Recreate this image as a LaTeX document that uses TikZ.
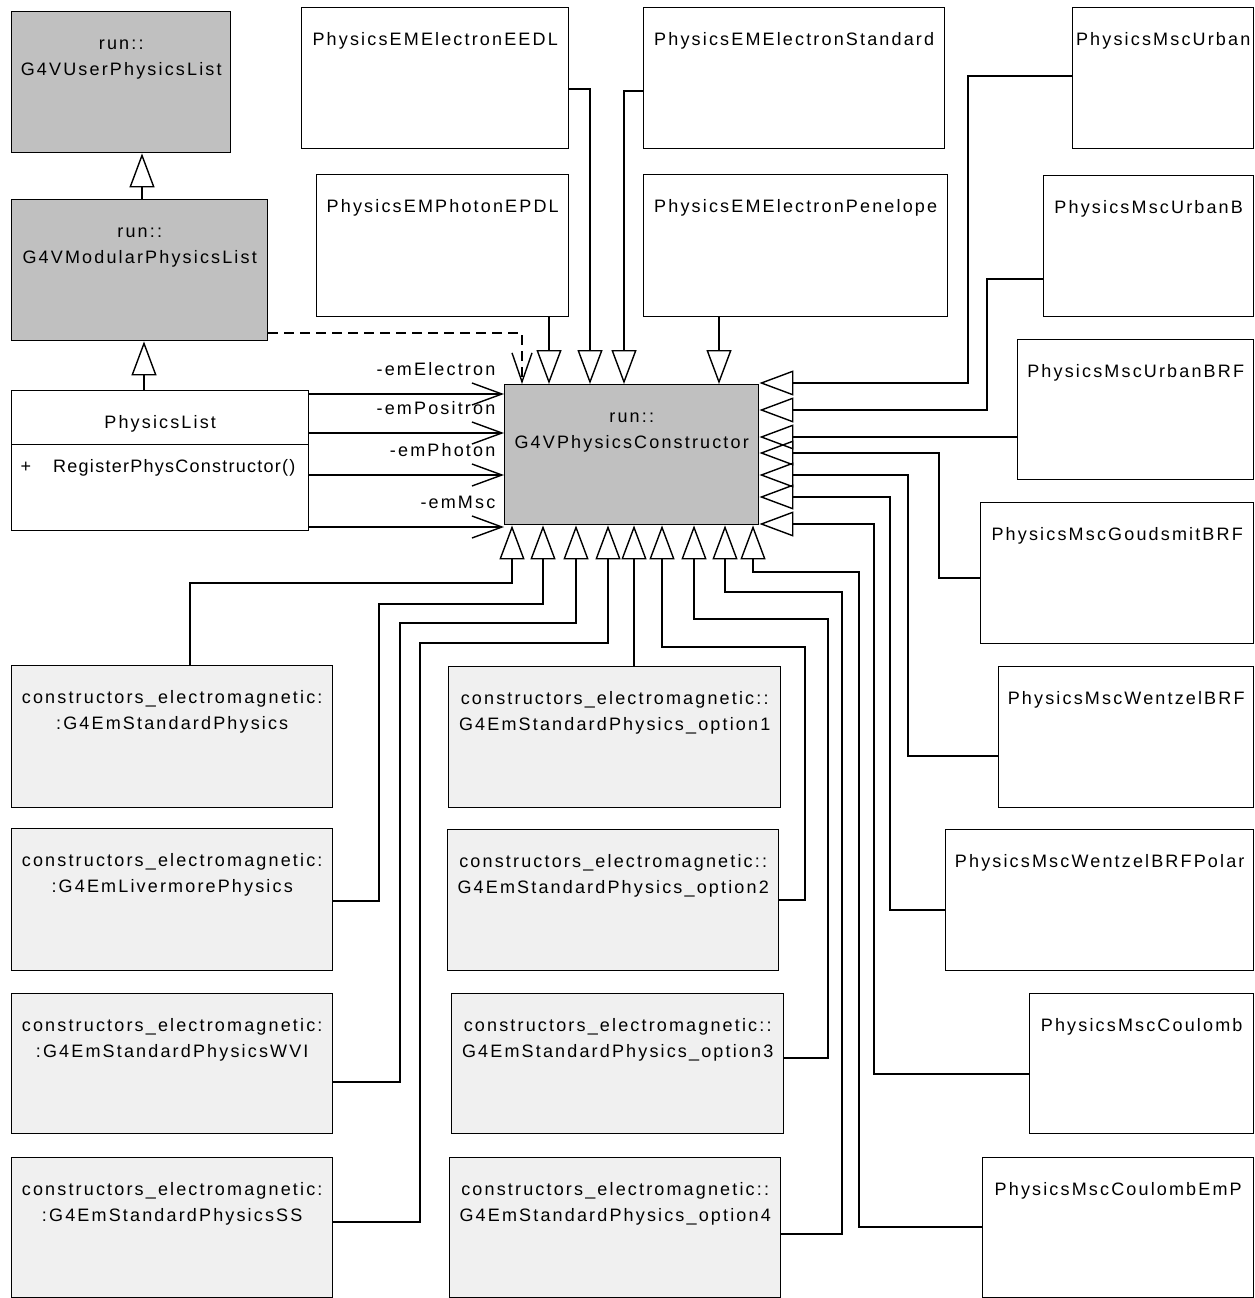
\documentclass[tikz,border=0pt]{standalone}
\usepackage{fontspec}
\setmainfont{Liberation Sans}[LetterSpace=12]
\usetikzlibrary{arrows.meta}

\definecolor{absgray}{RGB}{192,192,192}
\definecolor{ctorgray}{RGB}{240,240,240}

\begin{document}
\begin{tikzpicture}[
                x=1pt, y=-1pt,
                font=\fontsize{18}{26}\selectfont,
                cls/.style n args={2}{rectangle,draw=black,line width=1.4pt,anchor=north west,inner sep=0pt,
                    align=center,text width=#1pt,text height=38pt,text depth=#2pt-38pt},
                base/.style={fill=absgray},
                ctor/.style={fill=ctorgray},
                inherit/.style={line width=1.4pt,-{Triangle[open,length=34pt,width=25pt]}},
                assoc/.style={line width=1.4pt,-{Straight Barb[length=30pt,width=22pt]}},
                uses/.style={line width=1.4pt,dash pattern=on 10pt off 6pt,-{Straight Barb[length=29pt,width=20pt]}},
                role/.style={pos=1,anchor=base east,inner sep=0pt,xshift=-8pt,yshift=19pt},
            ]
            \useasboundingbox (0,0) rectangle (1255,1298);

            % Define nodes
            \node[cls={219}{141},base] (upl) at (11,11) {run::\\G4VUserPhysicsList};
            \node[cls={256}{141},base] (mpl) at (11,199) {run::\\G4VModularPhysicsList};
            \node[cls={297}{54}] (pl) at (11,390) {PhysicsList};
            \node[cls={297}{86},align=left,text height=28pt,text depth=58pt] (plops) at (11,444)
                {\hspace*{9pt}+\hspace{22pt}{\addfontfeature{LetterSpace=7}RegisterPhysConstructor()}};
            \node[cls={254}{140},base] (pc) at (504,384) {run::\\G4VPhysicsConstructor};

            \node[cls={267}{141}] (eedl) at (301,7) {PhysicsEMElectronEEDL};
            \node[cls={252}{142}] (epdl) at (316,174) {PhysicsEMPhotonEPDL};
            \node[cls={301}{141}] (estd) at (643,7) {PhysicsEMElectronStandard};
            \node[cls={304}{142}] (epen) at (643,174) {PhysicsEMElectronPenelope};

            \node[cls={181}{141}] (urb) at (1072,7) {PhysicsMscUrban};
            \node[cls={210}{141}] (urbb) at (1043,175) {PhysicsMscUrbanB};
            \node[cls={236}{140}] (ubrf) at (1017,339) {PhysicsMscUrbanBRF};
            \node[cls={273}{141}] (goud) at (980,502) {PhysicsMscGoudsmitBRF};
            \node[cls={255}{141}] (wbrf) at (998,666) {PhysicsMscWentzelBRF};
            \node[cls={308}{141}] (wpol) at (945,829) {PhysicsMscWentzelBRFPolar};
            \node[cls={224}{140}] (coul) at (1029,993) {PhysicsMscCoulomb};
            \node[cls={271}{140}] (cemp) at (982,1157) {PhysicsMscCoulombEmP};

            \node[cls={321}{142},ctor] (stdp) at (11,665) {constructors\_electromagnetic:\\:G4EmStandardPhysics};
            \node[cls={321}{142},ctor] (liv) at (11,828) {constructors\_electromagnetic:\\:G4EmLivermorePhysics};
            \node[cls={321}{140},ctor] (wvi) at (11,993) {constructors\_electromagnetic:\\:G4EmStandardPhysicsWVI};
            \node[cls={321}{140},ctor] (ss) at (11,1157) {constructors\_electromagnetic:\\:G4EmStandardPhysicsSS};
            \node[cls={332}{141},ctor] (opt1) at (448,666) {constructors\_electromagnetic::\\G4EmStandardPhysics\_option1};
            \node[cls={331}{141},ctor] (opt2) at (447,829) {constructors\_electromagnetic::\\G4EmStandardPhysics\_option2};
            \node[cls={332}{140},ctor] (opt3) at (451,993) {constructors\_electromagnetic::\\G4EmStandardPhysics\_option3};
            \node[cls={331}{140},ctor] (opt4) at (449,1157) {constructors\_electromagnetic::\\G4EmStandardPhysics\_option4};

            % Draw generalisations
            \draw[inherit] (mpl.north -| 142,0) -- (upl.south -| 142,0);
            \draw[inherit] (pl.north -| 144,0) -- (mpl.south -| 144,0);
            \draw[uses] (mpl.east |- 0,333) -| (pc.north -| 522,0);

            % Draw associations
            \draw[assoc] (pl.east |- 0,394) -- (pc.west |- 0,394) node[role] (relec) {-emElectron};
            \draw[assoc] (pl.east |- 0,433) -- (pc.west |- 0,433) node[role] (rposi) {-emPositron};
            \draw[assoc] (plops.east |- 0,475) -- (pc.west |- 0,475) node[role] (rphot) {-emPhoton};
            \draw[assoc] (plops.east |- 0,527) -- (pc.west |- 0,527) node[role] (rmsc) {-emMsc};

            % Top connections
            \draw[inherit] (epdl.south -| 549,0) -- (pc.north -| 549,0);
            \draw[inherit] (eedl.east |- 0,89) -| (pc.north -| 590,0);
            \draw[inherit] (estd.west |- 0,91) -| (pc.north -| 624,0);
            \draw[inherit] (epen.south -| 719,0) -- (pc.north -| 719,0);

            % Right connections
            \draw[inherit] (urb.west |- 0,76) -| (968,383) -- (pc.east |- 0,383);
            \draw[inherit] (urbb.west |- 0,279) -| (987,410) -- (pc.east |- 0,410);
            \draw[inherit] (ubrf.west |- 0,437) -- (pc.east |- 0,437);
            \draw[inherit] (goud.west |- 0,578) -| (939,453) -- (pc.east |- 0,453);
            \draw[inherit] (wbrf.west |- 0,756) -| (908,475) -- (pc.east |- 0,475);
            \draw[inherit] (wpol.west |- 0,910) -| (890,497) -- (pc.east |- 0,497);
            \draw[inherit] (coul.west |- 0,1074) -| (874,524) -- (pc.east |- 0,524);

            % Bottom connections
            \draw[inherit] (stdp.north -| 190,0) |- (512,583) -- (pc.south -| 512,0);
            \draw[inherit] (liv.east |- 0,901) -| (379,604) -| (pc.south -| 543,0);
            \draw[inherit] (wvi.east |- 0,1082) -| (400,623) -| (pc.south -| 576,0);
            \draw[inherit] (ss.east |- 0,1222) -| (420,643) -| (pc.south -| 608,0);
            \draw[inherit] (opt1.north -| 634,0) -- (pc.south -| 634,0);
            \draw[inherit] (opt2.east |- 0,900) -| (805,647) -| (pc.south -| 662,0);
            \draw[inherit] (opt3.east |- 0,1058) -| (828,619) -| (pc.south -| 694,0);
            \draw[inherit] (opt4.east |- 0,1234) -| (842,592) -| (pc.south -| 725,0);
            \draw[inherit] (cemp.west |- 0,1227) -| (859,572) -| (pc.south -| 753,0);

\end{tikzpicture}
\end{document}
